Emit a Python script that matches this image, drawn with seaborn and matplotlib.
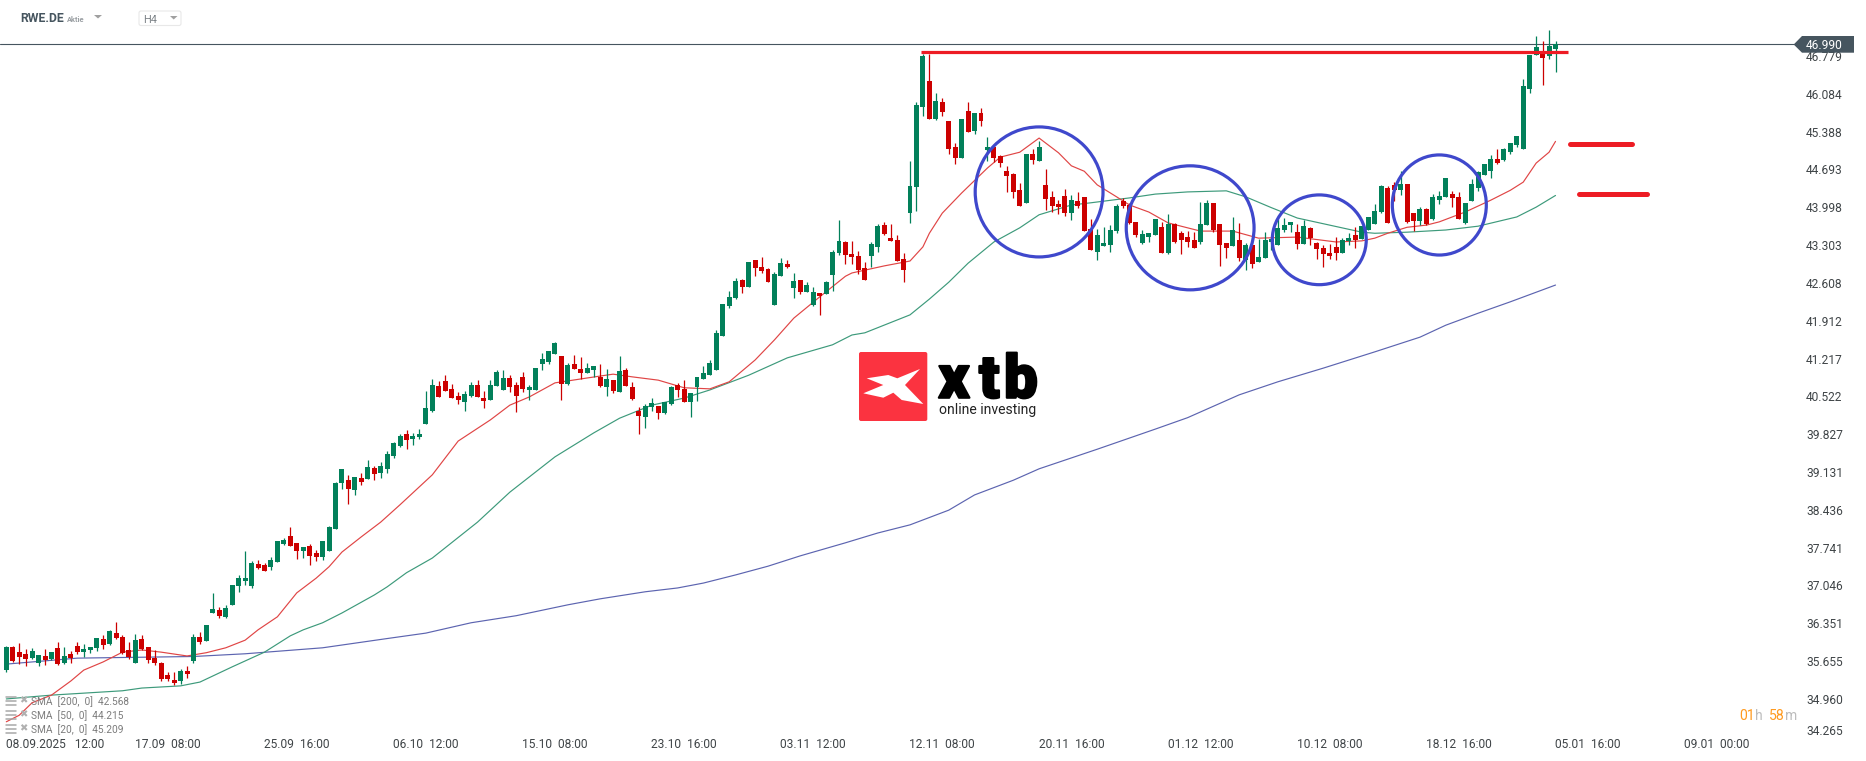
import numpy as np
import pandas as pd
import seaborn as sns
import matplotlib
matplotlib.use("Agg")
import matplotlib.pyplot as plt
import matplotlib.patheffects as pe
from matplotlib.patches import Ellipse, FancyBboxPatch, Polygon
from matplotlib.transforms import Affine2D

# H4 candles, 10 per row
candle_dir = ("GRRRGGRGRG" "RRGGGRGRRR" "GRRRRRRGRG" "RGGRGGGGGR" "RGGGRRGRRG" "GGGRGRGRGG"
              "GGRGGGGRRR" "RGGRRGGGRR" "RGGGGGRGRR" "GGRGRGRRRG" "GRGGRRGGGG" "GGGGRGRRRG"
              "GRGRGGRGGG" "RRRRGGRRRR" "GGGRGRRRGR" "GRGRRRRRGR" "GRRRRGRRRG" "GGGRRRGGGR"
              "GRRRRGGRRR" "GRGRGGGGGG" "RGRRRRRGGR" "GGGGRRGRRG" "RGGGRRGGGG" "GRGGGGGGRG" "G")

candle_high = [
    35.94, 35.93, 35.99, 35.87, 35.89, 35.77, 35.87, 35.82, 36.01, 35.92,
    35.84, 36.01, 35.97, 35.92, 36.08, 36.14, 36.23, 36.37, 36.14, 36.01,
    36.15, 36.14, 35.92, 35.86, 35.64, 35.46, 35.46, 35.51, 35.57, 36.15,
    36.19, 36.32, 36.91, 36.65, 36.69, 37.05, 37.24, 37.68, 37.50, 37.51,
    37.46, 37.57, 37.86, 37.92, 38.12, 37.83, 37.75, 37.81, 37.70, 37.86,
    38.14, 38.95, 39.19, 39.08, 39.04, 39.11, 39.35, 39.24, 39.31, 39.52,
    39.68, 39.83, 39.90, 39.85, 39.92, 40.62, 40.84, 40.80, 40.92, 40.75,
    40.60, 40.62, 40.79, 40.82, 40.62, 40.82, 41.01, 41.01, 40.92, 40.79,
    40.97, 40.73, 41.04, 41.32, 41.36, 41.52, 41.26, 41.14, 41.28, 41.25,
    41.14, 41.08, 41.12, 41.03, 40.82, 41.26, 41.04, 40.79, 40.33, 40.38,
    40.49, 40.35, 40.42, 40.71, 40.77, 40.82, 40.58, 40.88, 41.08, 41.19,
    41.74, 42.22, 42.46, 42.70, 42.68, 42.99, 43.03, 43.08, 42.88, 42.81,
    43.07, 43.03, 42.79, 42.66, 42.62, 42.53, 42.42, 42.64, 43.21, 43.76,
    43.38, 43.38, 43.20, 42.99, 43.36, 43.69, 43.73, 43.69, 43.49, 43.16,
    44.85, 45.93, 46.82, 46.82, 46.10, 46.01, 45.58, 45.18, 45.62, 45.93,
    45.73, 45.82, 45.29, 45.11, 44.96, 44.76, 44.63, 44.44, 44.98, 45.07,
    45.22, 44.70, 44.30, 44.13, 44.33, 44.22, 44.28, 44.19, 43.78, 43.60,
    43.64, 43.67, 44.06, 44.17, 44.08, 43.73, 43.58, 43.53, 43.78, 43.73,
    43.88, 43.71, 43.56, 43.56, 43.54, 44.10, 44.13, 44.08, 43.69, 43.34,
    43.82, 43.71, 43.34, 43.31, 43.41, 43.54, 43.41, 43.78, 43.80, 43.73,
    43.69, 43.76, 43.64, 43.36, 43.31, 43.32, 43.45, 43.43, 43.53, 43.64,
    43.66, 43.81, 44.06, 44.40, 44.38, 44.47, 44.66, 44.43, 43.90, 44.01,
    43.99, 44.25, 44.29, 44.53, 44.29, 44.27, 44.08, 44.51, 44.66, 44.80,
    44.95, 45.06, 45.08, 45.18, 45.30, 46.36, 46.80, 47.14, 47.06, 47.25,
    47.06,
]
candle_top = [
    35.92, 35.92, 35.82, 35.79, 35.84, 35.77, 35.75, 35.82, 35.90, 35.75,
    35.79, 35.93, 35.88, 35.92, 36.08, 36.06, 36.21, 36.17, 36.10, 35.86,
    36.04, 36.06, 35.92, 35.71, 35.62, 35.40, 35.31, 35.47, 35.47, 36.10,
    36.10, 36.32, 36.61, 36.60, 36.63, 37.05, 37.18, 37.18, 37.46, 37.44,
    37.42, 37.51, 37.86, 37.88, 37.96, 37.83, 37.75, 37.77, 37.64, 37.86,
    38.12, 38.93, 39.19, 38.98, 39.04, 39.02, 39.22, 39.21, 39.24, 39.46,
    39.66, 39.79, 39.83, 39.79, 39.83, 40.31, 40.73, 40.71, 40.80, 40.66,
    40.53, 40.57, 40.73, 40.73, 40.49, 40.73, 40.97, 40.86, 40.86, 40.73,
    40.88, 40.70, 41.04, 41.21, 41.36, 41.50, 41.26, 41.10, 41.12, 41.03,
    41.04, 41.08, 40.88, 40.84, 40.82, 40.99, 41.01, 40.70, 40.25, 40.35,
    40.40, 40.35, 40.42, 40.70, 40.73, 40.66, 40.58, 40.88, 40.95, 41.14,
    41.69, 42.22, 42.35, 42.64, 42.66, 42.99, 43.03, 42.90, 42.86, 42.77,
    42.97, 42.95, 42.64, 42.66, 42.57, 42.44, 42.42, 42.62, 43.18, 43.38,
    43.36, 43.14, 43.10, 42.88, 43.32, 43.65, 43.67, 43.43, 43.40, 43.05,
    44.39, 45.88, 46.78, 46.32, 45.95, 45.93, 45.58, 45.11, 45.62, 45.77,
    45.73, 45.73, 45.11, 45.11, 44.94, 44.67, 44.61, 44.32, 44.98, 44.98,
    45.11, 44.41, 44.19, 44.06, 44.21, 44.13, 44.11, 44.19, 43.60, 43.49,
    43.34, 43.58, 44.02, 44.11, 44.04, 43.73, 43.51, 43.53, 43.78, 43.64,
    43.69, 43.69, 43.53, 43.45, 43.40, 43.69, 44.08, 44.08, 43.69, 43.34,
    43.58, 43.40, 43.31, 43.31, 43.08, 43.40, 43.41, 43.62, 43.67, 43.73,
    43.54, 43.65, 43.62, 43.34, 43.25, 43.16, 43.27, 43.40, 43.43, 43.49,
    43.66, 43.81, 43.93, 44.38, 44.36, 44.40, 44.43, 44.43, 43.90, 43.97,
    43.97, 44.18, 44.21, 44.53, 44.25, 44.19, 44.08, 44.42, 44.64, 44.79,
    44.88, 44.88, 45.06, 45.18, 45.30, 46.23, 46.80, 46.95, 46.85, 46.97,
    46.99,
]
candle_bottom = [
    35.50, 35.66, 35.73, 35.69, 35.71, 35.62, 35.68, 35.69, 35.60, 35.62,
    35.71, 35.82, 35.82, 35.86, 35.90, 35.95, 35.97, 36.08, 35.80, 35.73,
    35.62, 35.88, 35.68, 35.62, 35.33, 35.33, 35.25, 35.29, 35.42, 35.66,
    36.01, 36.03, 36.54, 36.49, 36.47, 36.69, 37.04, 37.13, 37.04, 37.37,
    37.31, 37.39, 37.48, 37.81, 37.77, 37.68, 37.68, 37.59, 37.57, 37.57,
    37.68, 38.08, 38.93, 38.82, 38.80, 38.95, 39.00, 39.10, 39.11, 39.19,
    39.43, 39.61, 39.72, 39.74, 39.77, 40.01, 40.25, 40.51, 40.62, 40.49,
    40.46, 40.42, 40.53, 40.51, 40.44, 40.46, 40.71, 40.64, 40.70, 40.53,
    40.66, 40.64, 40.64, 41.12, 41.15, 41.30, 40.75, 40.75, 41.03, 40.95,
    40.95, 41.01, 40.71, 40.70, 40.62, 40.60, 40.71, 40.47, 40.16, 40.14,
    40.33, 40.22, 40.22, 40.38, 40.64, 40.42, 40.42, 40.70, 40.84, 40.92,
    41.01, 41.63, 42.18, 42.33, 42.53, 42.53, 42.88, 42.83, 42.62, 42.20,
    42.73, 42.90, 42.51, 42.44, 42.44, 42.20, 42.37, 42.40, 42.75, 43.16,
    43.12, 43.08, 42.85, 42.66, 43.10, 43.27, 43.51, 43.38, 43.01, 42.85,
    43.90, 44.37, 45.84, 45.62, 45.62, 45.75, 45.07, 44.90, 44.90, 45.38,
    45.40, 45.58, 45.05, 44.90, 44.81, 44.57, 44.28, 44.02, 44.08, 44.87,
    44.85, 44.15, 44.02, 44.00, 43.89, 43.89, 44.02, 43.56, 43.21, 43.18,
    43.29, 43.31, 43.56, 44.02, 43.71, 43.49, 43.34, 43.45, 43.49, 43.16,
    43.16, 43.36, 43.40, 43.36, 43.25, 43.36, 43.67, 43.58, 43.31, 43.25,
    43.29, 43.07, 43.03, 42.96, 42.99, 43.07, 43.36, 43.31, 43.58, 43.67,
    43.32, 43.32, 43.43, 43.23, 43.14, 43.10, 43.16, 43.16, 43.38, 43.40,
    43.42, 43.58, 43.69, 43.92, 43.71, 44.32, 44.32, 43.73, 43.75, 43.75,
    43.69, 43.79, 44.14, 44.19, 44.16, 43.79, 43.71, 44.12, 44.36, 44.60,
    44.67, 44.82, 44.86, 45.01, 45.14, 45.06, 46.17, 46.80, 46.75, 46.77,
    46.91,
]
candle_low = [
    35.46, 35.63, 35.61, 35.57, 35.69, 35.57, 35.58, 35.68, 35.59, 35.60,
    35.62, 35.79, 35.73, 35.80, 35.84, 35.88, 35.95, 36.06, 35.79, 35.69,
    35.62, 35.86, 35.62, 35.58, 35.29, 35.29, 35.22, 35.23, 35.34, 35.62,
    35.97, 36.03, 36.54, 36.45, 36.45, 36.69, 36.93, 37.05, 37.00, 37.35,
    37.31, 37.33, 37.48, 37.79, 37.77, 37.53, 37.55, 37.42, 37.50, 37.51,
    37.68, 38.08, 38.82, 38.54, 38.71, 38.89, 39.00, 38.98, 39.02, 39.11,
    39.39, 39.59, 39.55, 39.63, 39.74, 40.01, 40.24, 40.51, 40.62, 40.49,
    40.38, 40.25, 40.51, 40.51, 40.31, 40.46, 40.71, 40.64, 40.60, 40.24,
    40.60, 40.46, 40.64, 41.01, 41.12, 41.30, 40.46, 40.73, 41.03, 40.84,
    40.95, 40.88, 40.70, 40.53, 40.58, 40.60, 40.71, 40.46, 39.83, 39.94,
    40.25, 40.11, 40.20, 40.36, 40.51, 40.42, 40.14, 40.44, 40.84, 40.92,
    41.01, 41.63, 42.15, 42.31, 42.42, 42.53, 42.73, 42.79, 42.62, 42.20,
    42.73, 42.88, 42.33, 42.40, 42.44, 42.18, 42.02, 42.40, 42.46, 43.12,
    42.95, 42.95, 42.77, 42.66, 42.90, 43.18, 43.49, 43.38, 43.01, 42.62,
    43.71, 43.93, 45.68, 45.62, 45.60, 45.68, 44.98, 44.79, 44.90, 45.38,
    45.35, 45.49, 44.85, 44.83, 44.74, 44.28, 44.17, 44.02, 44.08, 44.79,
    44.85, 43.95, 43.91, 43.88, 43.84, 43.76, 43.98, 43.56, 43.21, 43.03,
    43.29, 43.18, 43.53, 43.98, 43.69, 43.45, 43.32, 43.36, 43.49, 43.16,
    43.14, 43.34, 43.14, 43.27, 43.25, 43.32, 43.67, 43.54, 42.92, 43.07,
    43.29, 43.01, 42.85, 42.88, 42.99, 43.07, 43.21, 43.31, 43.54, 43.54,
    43.23, 43.32, 43.31, 43.05, 42.90, 43.05, 43.03, 43.16, 43.31, 43.25,
    43.42, 43.58, 43.69, 43.90, 43.71, 44.12, 44.23, 43.71, 43.56, 43.68,
    43.68, 43.77, 44.05, 44.18, 44.01, 43.79, 43.69, 44.12, 44.30, 44.60,
    44.53, 44.80, 44.84, 44.97, 45.10, 45.06, 46.10, 46.80, 46.25, 46.73,
    46.49,
]

# moving averages, read at the bends
sma20_idx = [0, 2, 4, 7, 10, 12, 15, 18, 21, 24, 28, 31, 34, 37, 39, 42, 45, 48, 50, 52, 55, 58, 61,
             64, 66, 68, 70, 75, 78, 81, 83, 85, 90, 94, 97, 101, 105, 109, 112, 116, 119, 122, 126,
             130, 131, 136, 140, 142, 143, 145, 148, 152, 154, 157, 160, 163, 165, 167, 169, 172,
             174, 177, 180, 185, 190, 194, 200, 206, 210, 212, 214, 217, 220, 222, 226, 230, 233,
             235, 237, 239, 240]
sma20_val = [34.54, 34.66, 34.89, 35.03, 35.29, 35.49, 35.64, 35.82, 35.86, 35.82, 35.75, 35.81,
             35.90, 36.04, 36.23, 36.47, 36.91, 37.18, 37.39, 37.66, 37.94, 38.21, 38.53, 38.86,
             39.08, 39.39, 39.70, 40.09, 40.36, 40.51, 40.64, 40.77, 40.86, 40.93, 40.88, 40.82,
             40.68, 40.66, 40.79, 41.19, 41.56, 41.96, 42.35, 42.73, 42.79, 42.92, 43.01, 43.27,
             43.52, 43.89, 44.26, 44.72, 44.92, 45.01, 45.27, 45.00, 44.76, 44.66, 44.41, 44.19,
             44.04, 43.91, 43.71, 43.56, 43.56, 43.43, 43.45, 43.36, 43.38, 43.43, 43.52, 43.63,
             43.67, 43.73, 43.91, 44.13, 44.31, 44.46, 44.81, 45.01, 45.209]

sma50_idx = [0, 7, 18, 21, 27, 30, 35, 40, 44, 46, 49, 52, 57, 59, 62, 66, 73, 78, 85, 91, 95, 100,
             105, 109, 115, 121, 128, 131, 133, 140, 143, 146, 149, 153, 157, 160, 165, 168, 174,
             178, 183, 189, 192, 196, 200, 205, 210, 212, 217, 223, 228, 234, 237, 240]
sma50_val = [34.96, 35.03, 35.11, 35.16, 35.20, 35.27, 35.55, 35.82, 36.12, 36.23, 36.36, 36.54,
             36.87, 37.02, 37.28, 37.55, 38.21, 38.76, 39.41, 39.85, 40.12, 40.36, 40.49, 40.64,
             40.91, 41.23, 41.47, 41.65, 41.69, 42.02, 42.31, 42.62, 42.97, 43.36, 43.62, 43.86,
             44.04, 44.08, 44.17, 44.24, 44.28, 44.30, 44.19, 43.99, 43.80, 43.67, 43.54, 43.52,
             43.54, 43.58, 43.65, 43.82, 44.00, 44.215]

sma200_idx = [0, 11, 23, 29, 37, 49, 59, 65, 72, 79, 87, 92, 99, 104, 108, 113, 118, 123, 130, 135,
              140, 146, 150, 156, 160, 169, 178, 183, 191, 197, 204, 212, 219, 223, 228, 233, 240]
sma200_val = [35.60, 35.71, 35.73, 35.74, 35.79, 35.90, 36.07, 36.17, 36.36, 36.49, 36.69, 36.80,
              36.93, 37.00, 37.09, 37.24, 37.40, 37.59, 37.83, 38.01, 38.16, 38.43, 38.71, 38.98,
              39.19, 39.55, 39.92, 40.13, 40.55, 40.79, 41.04, 41.34, 41.61, 41.83, 42.05, 42.26,
              42.568]

last_price = 46.99
y_ticks = [46.779, 46.084, 45.388, 44.693, 43.998, 43.303, 42.608, 41.912, 41.217, 40.522, 39.827,
           39.131, 38.436, 37.741, 37.046, 36.351, 35.655, 34.960]
x_tick_idx = [25, 45, 65, 85, 105, 125, 145, 165, 185, 205, 225, 245, 265]
x_tick_labels = ["17.09  08:00", "25.09  16:00", "06.10  12:00", "15.10  08:00", "23.10  16:00",
                 "03.11  12:00", "12.11  08:00", "20.11  16:00", "01.12  12:00", "10.12  08:00",
                 "18.12  16:00", "05.01  16:00", "09.01  00:00"]

# levels and circles somebody drew on the chart: (centre idx, centre price, width, height)
circles = [(160, 44.28, 19.8, 2.39), (183.4, 43.62, 19.8, 2.28),
           (203.4, 43.40, 14.56, 1.65), (222, 44.04, 14.56, 1.84)]
resistance = (141.7, 241.9, 46.85)
target_lines = [(242.3, 251.9, 45.17), (243.7, 254.1, 44.24)]

GREEN = "#02805a"
RED = "#cc0000"
SLATE = "#46555f"
TEXT = "#3f4447"

sns.set_style("white")
plt.rcParams["font.family"] = ["Roboto", "DejaVu Sans"]


def fpx(px):
    return px * 0.72


df = pd.DataFrame({"high": candle_high, "top": candle_top, "bottom": candle_bottom, "low": candle_low})
df["idx"] = np.arange(len(df))
df["color"] = [GREEN if d == "G" else RED for d in candle_dir]

fig = plt.figure(figsize=(18.66, 7.61), dpi=100, facecolor="white")
ax = fig.add_axes([0, 0, 1, 1])
# pixel transform for the platform chrome, y pointing down
px = Affine2D().scale(1 / 1866, -1 / 761).translate(0, 1) + fig.transFigure

ax.set_xlim(-0.976, 288.1)
ax.set_ylim(33.819, 47.808)
sns.despine(ax=ax, left=True, bottom=True)

ax.axhline(last_price, xmax=1794 / 1866, color=SLATE, lw=0.8, zorder=1)

for name, idx, val, col in [("200", sma200_idx, sma200_val, "#5c64b0"),
                            ("50", sma50_idx, sma50_val, "#3d9a7b"),
                            ("20", sma20_idx, sma20_val, "#e04545")]:
    sns.lineplot(x=idx, y=val, ax=ax, color=col, lw=0.85, estimator=None, sort=False, zorder=2.2)

ax.vlines(df["idx"], df["low"], df["high"], colors=df["color"], lw=0.9, zorder=3)
ax.bar(df["idx"], df["top"] - df["bottom"], bottom=df["bottom"], width=0.77, color=df["color"],
       linewidth=0, zorder=3)

for cx, cy, w, h in circles:
    ax.add_patch(Ellipse((cx, cy), w, h, fill=False, ec="#3f48cc", lw=2.3, zorder=5))
ax.plot(resistance[:2], [resistance[2]] * 2, color="#ed1c24", lw=2.3, solid_capstyle="butt", zorder=5)
for x0, x1, lvl in target_lines:
    ax.plot([x0, x1], [lvl, lvl], color="#ed1c24", lw=3.6, solid_capstyle="round", zorder=5)

# axis labels sit inside the plot, like on the platform
ax.yaxis.tick_right()
ax.set_yticks(y_ticks, [f"{v:.3f}" for v in y_ticks])
ax.tick_params(axis="y", length=0, pad=fpx(-60), labelsize=fpx(12), labelcolor=TEXT)
ax.set_xticks(x_tick_idx, x_tick_labels)
ax.tick_params(axis="x", length=0, pad=fpx(-23.5), labelsize=fpx(12), labelcolor=TEXT)
ax.text(1806, 731.7, "34.265", transform=px, fontsize=fpx(12), color=TEXT, va="center")
ax.text(6, 744, "08.09.2025   12:00", transform=px, fontsize=fpx(12), color=TEXT, va="center")

# price tag
ax.add_patch(Polygon([(1793.7, 44.5), (1802, 36), (1854, 36), (1854, 52.7), (1802, 52.7)],
                     transform=px, fc=SLATE, ec="none", zorder=6))
ax.text(1806, 45.5, "46.990", transform=px, fontsize=fpx(12), color="white", va="center", zorder=7)

# header
ax.text(20, 19, "RWE.DE", transform=px, fontsize=fpx(12.2), fontweight="bold", color=SLATE, va="center")
ax.text(67, 19.5, "Aktie", transform=px, fontsize=fpx(7.5), fontweight="bold", color="#9a9fa3", va="center")
ax.add_patch(Polygon([(94, 15), (102, 15), (98, 18.5)], transform=px, fc="#a0a0a0", ec="none"))
ax.add_patch(FancyBboxPatch((139, 11), 42, 14.5, boxstyle="round,pad=0,rounding_size=2", transform=px,
                            fc="white", ec="#e8e8e8", lw=0.8))
ax.text(143.5, 19.7, "H4", transform=px, fontsize=fpx(11), color="#7d8388", va="center")
ax.add_patch(Polygon([(170, 16), (177.5, 16), (173.7, 19.5)], transform=px, fc="#a0a0a0", ec="none"))

# indicator legend
for label, y in [("SMA  [200,  0]  42.568", 701.7), ("SMA  [50,  0]  44.215", 715.3),
                 ("SMA  [20,  0]  45.209", 729.3)]:
    ax.text(31, y, label, transform=px, fontsize=fpx(10.1), color="#7c7c7c", va="center", zorder=6)
    for off in (-4, 0, 4):
        ax.plot([6, 16], [y - 0.5 + off, y - 0.5 + off], transform=px, color="#a8a8a8", lw=1.1, zorder=6)
    ax.text(23.5, y - 1, "✖", transform=px, fontsize=fpx(10), color="#b0b0b0", ha="center", va="center",
            family="DejaVu Sans", zorder=6)

# candle timer
for txt, x, col in [("01", 1739, "#ff9a1f"), ("h", 1755.5, "#bdbdbd"), ("58", 1768.5, "#ff9a1f"), ("m", 1784.5, "#bdbdbd")]:
    ax.text(x, 716, txt, transform=px, fontsize=fpx(14), color=col, va="center")

# logo
ax.add_patch(FancyBboxPatch((859, 352), 68.3, 69, boxstyle="round,pad=0,rounding_size=2", transform=px,
                            fc="#fb3340", ec="none", zorder=1.5))
ax.add_patch(Polygon([(866.7, 378.3), (888.3, 375), (897.3, 378.3), (920, 369), (905, 385), (923.3, 404),
                      (901.7, 400), (893.3, 392.7), (883.3, 397.7), (863.3, 393.3), (883.3, 385)],
                     transform=px, fc="white", ec="none", zorder=1.6))
for letter, x in [("x", 938.5), ("t", 979), ("b", 1004)]:
    ax.text(x, 397.7, letter, transform=px, fontsize=fpx(60), fontweight="black", color="black", va="baseline",
            path_effects=[pe.withStroke(linewidth=1.6, foreground="black")])
ax.text(939, 414, "online investing", transform=px, fontsize=fpx(14), color="#222222", va="baseline")

fig.savefig("out.png", dpi=100)
